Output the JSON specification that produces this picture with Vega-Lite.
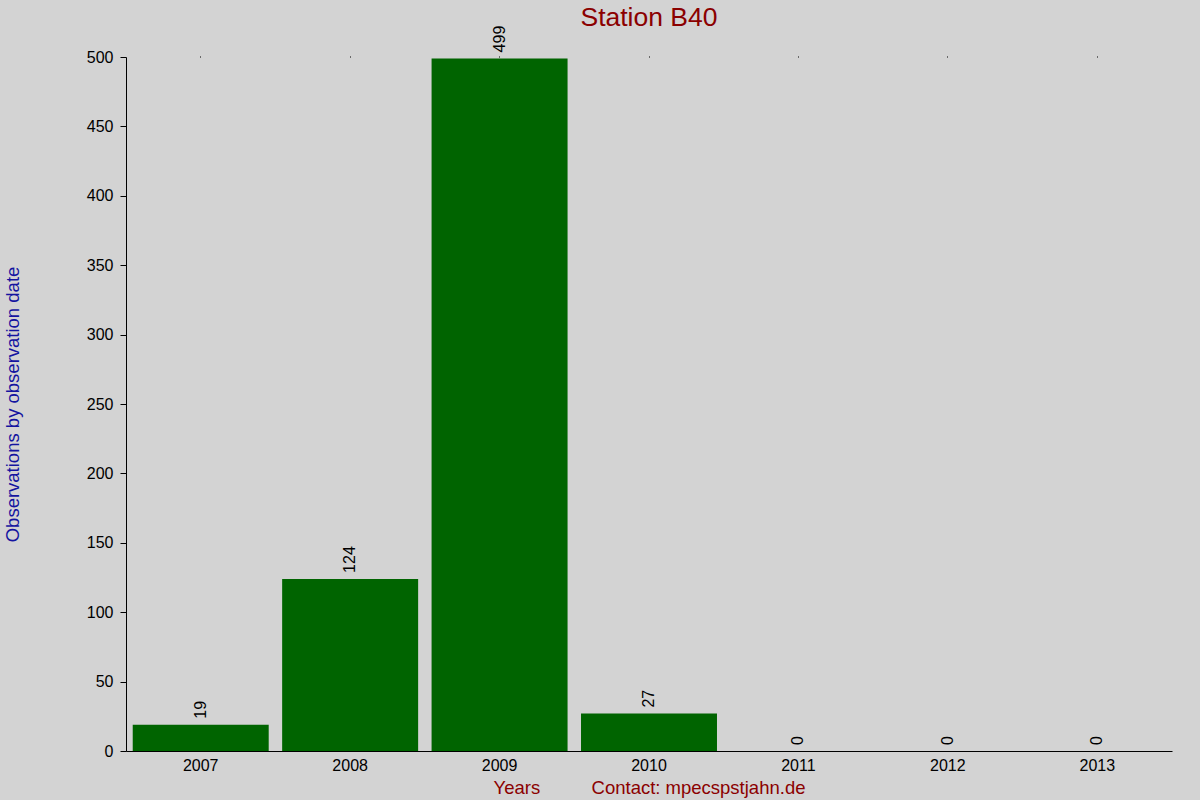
{
  "$schema": "https://vega.github.io/schema/vega-lite/v6.json",
  "autosize": "none",
  "width": 1046,
  "height": 694,
  "padding": {"left": 126, "top": 57, "right": 28, "bottom": 49},
  "background": "#d3d3d3",
  "title": {
    "text": "Station B40",
    "color": "#8b0000",
    "font": "Liberation Sans",
    "fontSize": 26.5,
    "fontWeight": "normal",
    "anchor": "middle",
    "offset": -6
  },
  "config": {
    "view": {"stroke": null},
    "font": "Liberation Sans",
    "axis": {
      "labelFont": "Liberation Sans",
      "labelFontSize": 16,
      "labelColor": "#000000",
      "domainColor": "#000000",
      "tickColor": "#000000",
      "grid": false,
      "titleFont": "Liberation Sans",
      "titleFontWeight": "normal",
      "titleFontSize": 18.5
    }
  },
  "data": {
    "values": [
      {"year": "2007", "observations": 19},
      {"year": "2008", "observations": 124},
      {"year": "2009", "observations": 499},
      {"year": "2010", "observations": 27},
      {"year": "2011", "observations": 0},
      {"year": "2012", "observations": 0},
      {"year": "2013", "observations": 0}
    ]
  },
  "encoding": {
    "x": {
      "field": "year",
      "type": "ordinal",
      "scale": {"paddingInner": 0.09, "paddingOuter": 0.045}
    },
    "y": {
      "field": "observations",
      "type": "quantitative",
      "scale": {"domain": [0, 500], "nice": false}
    }
  },
  "layer": [
    {
      "mark": {"type": "bar", "color": "#006400"},
      "encoding": {
        "x": {
          "field": "year",
          "type": "ordinal",
          "axis": {
            "title": "Years\u00a0\u00a0\u00a0\u00a0\u00a0\u00a0\u00a0\u00a0\u00a0\u00a0Contact: mpecspstjahn.de",
            "titleColor": "#8b0000",
            "titlePadding": 5,
            "labelAngle": 0,
            "labelPadding": 6,
            "ticks": false,
            "domainWidth": 1
          }
        },
        "y": {
          "field": "observations",
          "type": "quantitative",
          "axis": {
            "title": "Observations by observation date",
            "titleColor": "#1414a0",
            "titlePadding": 64,
            "values": [0, 50, 100, 150, 200, 250, 300, 350, 400, 450, 500],
            "labelOverlap": false,
            "tickSize": 6,
            "labelPadding": 7
          }
        }
      }
    },
    {
      "mark": {
        "type": "text",
        "angle": -90,
        "align": "left",
        "baseline": "middle",
        "dx": 6,
        "fontSize": 16,
        "color": "#000000"
      },
      "encoding": {
        "x": {
          "field": "year",
          "type": "ordinal",
          "axis": {
            "orient": "top",
            "title": null,
            "labels": false,
            "domain": false,
            "ticks": true,
            "tickSize": 1
          }
        },
        "text": {"field": "observations", "type": "quantitative"}
      }
    }
  ],
  "resolve": {"axis": {"x": "independent"}}
}
